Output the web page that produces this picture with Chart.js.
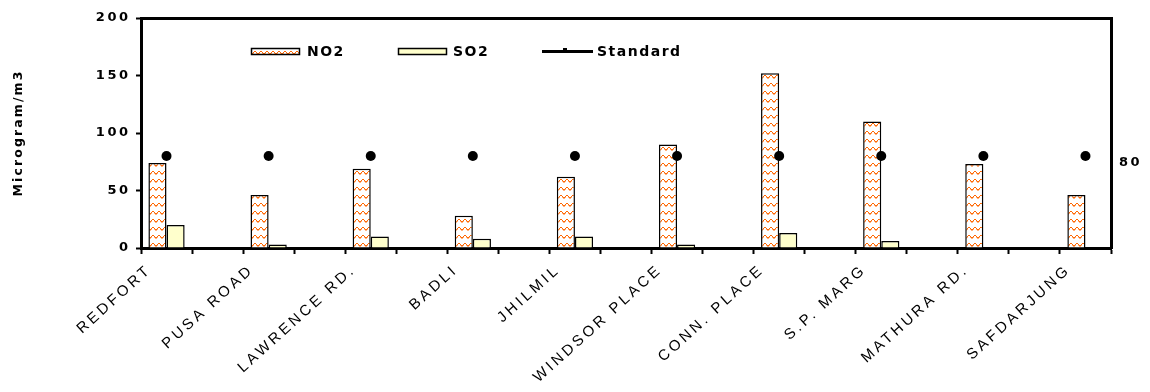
<!DOCTYPE html>
<html><head><meta charset="utf-8">
<script src="https://cdn.jsdelivr.net/npm/chart.js@4.4.1/dist/chart.umd.min.js"></script>
<style>html,body{margin:0;padding:0;background:#fff}canvas{display:block}</style>
</head><body>
<canvas id="c" width="1150" height="392"></canvas>
<script>
// ---- data ----
const categories = ['REDFORT','PUSA ROAD','LAWRENCE RD.','BADLI','JHILMIL','WINDSOR PLACE','CONN. PLACE','S.P. MARG','MATHURA RD.','SAFDARJUNG'];
const no2Values = [74, 46, 69, 28, 62, 90, 152, 110, 73, 46];
const so2Values = [20, 3, 10, 8, 10, 3, 13, 6, null, null];
const standardValues = [80, 80, 80, 80, 80, 80, 80, 80, 80, 80];
const yTickValues = [0, 50, 100, 150, 200];
const rightTickValues = [80];
const seriesNames = ['NO2', 'SO2', 'Standard'];
const yTitle = 'Microgram/m3';

// ---- letter spacing emulation of the wide bitmap fonts ----
function spacingFor(f) {
  if (/Liberation Sans/.test(f)) return '3.2px';
  if (/DejaVu Sans/.test(f)) {
    if (/\b14px/.test(f)) return '1.5px';
    if (/12\.5px/.test(f)) return '2.1px';
    return '2.5px';
  }
  return '0px';
}
(function () {
  const P = CanvasRenderingContext2D.prototype;
  const d = Object.getOwnPropertyDescriptor(P, 'font');
  if (d && 'letterSpacing' in P) {
    Object.defineProperty(P, 'font', {
      configurable: true,
      get() { return d.get.call(this); },
      set(v) { d.set.call(this, v); try { this.letterSpacing = spacingFor(String(v)); } catch (e) {} }
    });
  }
})();

// interleave categories with blank slots (chart uses gaps between groups)
const labels = [];
const no2Data = [], so2Data = [], stdData = [];
categories.forEach((c, i) => {
  labels.push(c); no2Data.push(no2Values[i]); so2Data.push(so2Values[i]); stdData.push(standardValues[i]);
  if (i < categories.length - 1) { labels.push(''); no2Data.push(null); so2Data.push(null); stdData.push(null); }
});

const canvas = document.getElementById('c');
const mainCtx = canvas.getContext('2d');

function makeZigzag() {
  const t = document.createElement('canvas'); t.width = 6; t.height = 8;
  const g = t.getContext('2d');
  g.fillStyle = '#ffffff'; g.fillRect(0, 0, 6, 8);
  g.fillStyle = '#ff6600';
  [[0,5],[1,4],[2,3],[3,3],[4,4],[5,5]].forEach(([x, y]) => g.fillRect(x, y, 1, 1));
  g.fillStyle = '#ffb27f';
  [[0,6],[5,6],[1,5],[4,5]].forEach(([x, y]) => g.fillRect(x, y, 1, 1));
  return mainCtx.createPattern(t, 'repeat');
}
const zigzag = makeZigzag();
const so2Color = '#ffffcc';

const legendPlugin = {
  id: 'boxLegend',
  afterDraw(chart) {
    const ctx = chart.ctx;
    ctx.save();
    ctx.font = "bold 14px 'DejaVu Sans'";
    ctx.fillStyle = '#000';
    ctx.textBaseline = 'alphabetic';
    ctx.textAlign = 'left';
    ctx.fillStyle = zigzag; ctx.fillRect(251, 48, 49, 7);
    ctx.strokeStyle = '#000'; ctx.lineWidth = 1.5; ctx.strokeRect(251.5, 48.5, 48, 6);
    ctx.fillStyle = '#000'; ctx.fillText(seriesNames[0], 307, 56);
    ctx.fillStyle = so2Color; ctx.fillRect(398, 48, 49, 7);
    ctx.strokeRect(398.5, 48.5, 48, 6);
    ctx.fillStyle = '#000'; ctx.fillText(seriesNames[1], 453, 56);
    ctx.fillRect(542, 50, 51, 3);
    ctx.fillRect(563, 48, 4, 5);
    ctx.fillText(seriesNames[2], 597, 56);
    ctx.restore();
  }
};

new Chart(canvas, {
  data: {
    labels: labels,
    datasets: [
      { type: 'bar', label: seriesNames[0], data: no2Data, backgroundColor: zigzag, borderColor: '#000', borderWidth: 1.5, order: 2, barPercentage: 1, categoryPercentage: 0.71 },
      { type: 'bar', label: seriesNames[1], data: so2Data, backgroundColor: so2Color, borderColor: '#000', borderWidth: 1.5, order: 2, barPercentage: 1, categoryPercentage: 0.71 },
      { type: 'line', label: seriesNames[2], data: stdData, showLine: false, pointRadius: 5, pointHoverRadius: 5, pointBackgroundColor: '#000', pointBorderColor: '#000', pointBorderWidth: 0, order: 1 }
    ]
  },
  options: {
    responsive: false,
    animation: false,
    events: [],
    layout: { padding: 0 },
    plugins: { legend: { display: false }, tooltip: { enabled: false }, title: { display: false } },
    scales: {
      x: {
        type: 'category', position: 'bottom', offset: true,
        grid: { display: true, drawOnChartArea: false, drawTicks: true, tickLength: 6, tickWidth: 2, tickColor: '#000', color: '#000', offset: true },
        border: { display: true, color: '#000', width: 3 },
        ticks: { autoSkip: false, maxRotation: 42, minRotation: 42, padding: 7, labelOffset: -17, color: '#000', font: { family: "'Liberation Sans'", size: 15 } },
        afterFit(s) { s.height = 144; }
      },
      xTop: {
        type: 'category', position: 'top', offset: true, labels: labels,
        grid: { display: true, drawOnChartArea: false, drawTicks: false },
        border: { display: true, color: '#000', width: 3 },
        ticks: { display: false },
        afterFit(s) { s.height = 18; }
      },
      y: {
        type: 'linear', position: 'left', min: 0, max: 200,
        afterBuildTicks(s) { s.ticks = yTickValues.map(v => ({ value: v })); },
        grid: { display: true, drawOnChartArea: false, drawTicks: true, tickLength: 5, tickWidth: 2, tickColor: '#000', color: '#000' },
        border: { display: true, color: '#000', width: 3 },
        ticks: { padding: 5.5, color: '#000', font: { family: "'DejaVu Sans'", size: 13, weight: 'bold' } },
        title: { display: true, text: yTitle, color: '#000', padding: { top: 11.5, bottom: 4 }, font: { family: "'DejaVu Sans'", size: 12.5, weight: 'bold' } },
        afterFit(s) { s.width = 141; }
      },
      y2: {
        type: 'linear', position: 'right', min: 0, max: 200,
        afterBuildTicks(s) { s.ticks = rightTickValues.map(v => ({ value: v })); },
        grid: { display: true, drawOnChartArea: false, drawTicks: false },
        border: { display: true, color: '#000', width: 3 },
        ticks: { padding: 8, labelOffset: 7, color: '#000', font: { family: "'DejaVu Sans'", size: 13, weight: 'bold' } },
        afterFit(s) { s.width = 39; }
      }
    }
  },
  plugins: [legendPlugin]
});
</script>
</body></html>
